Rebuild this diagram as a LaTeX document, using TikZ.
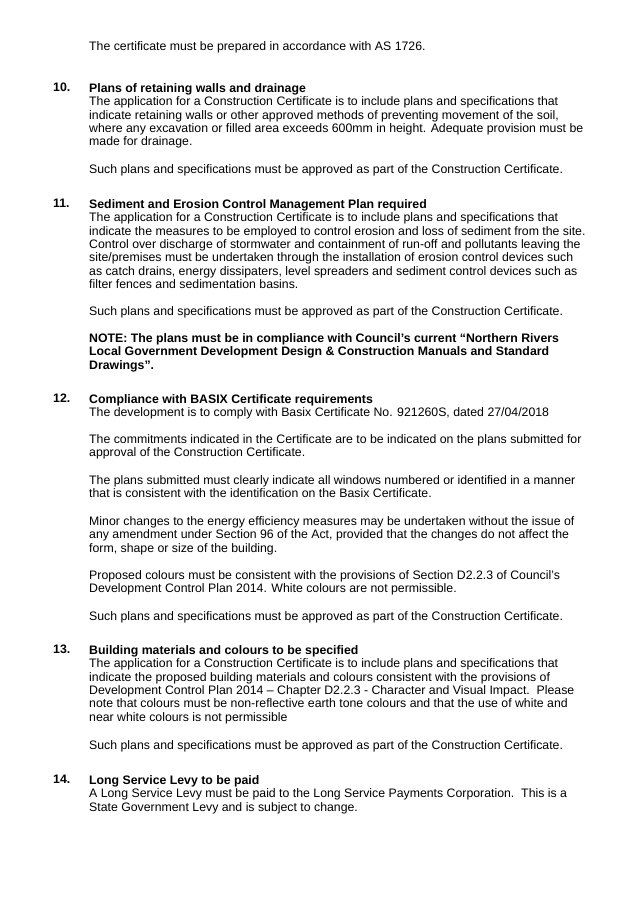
\documentclass[tikz,border=0pt]{standalone}
\usepackage{fontspec}
\setmainfont{Liberation Sans}
\begin{document}
\begin{tikzpicture}[x=1pt,y=-1pt,
 para/.style={anchor=north west,inner sep=0pt,align=left,font=\fontsize{12.3}{13.45}\selectfont},
 num/.style={anchor=north west,inner sep=0pt,font=\fontsize{12.3}{13.45}\selectfont\bfseries}]
\useasboundingbox (0,0) rectangle (638,900);
\fill[white] (0,0) rectangle (638,900);
\node[para] (p0) at (89,41) {The certificate must be prepared in accordance with AS 1726.};
\node[num] (n10) at (53,83) {10.};
\node[para] (p10) at (89,83) {\textbf{Plans of retaining walls and drainage}\\The application for a Construction Certificate is to include plans and specifications that\\indicate retaining walls or other approved methods of preventing movement of the soil,\\where any excavation or filled area exceeds 600mm in height. Adequate provision must be\\made for drainage.};
\node[para] (p10b) at (89,164) {Such plans and specifications must be approved as part of the Construction Certificate.};
\node[num] (n11) at (53,199) {11.};
\node[para] (p11) at (89,199) {\textbf{Sediment and Erosion Control Management Plan required}\\The application for a Construction Certificate is to include plans and specifications that\\indicate the measures to be employed to control erosion and loss of sediment from the site.\\Control over discharge of stormwater and containment of run-off and pollutants leaving the\\site/premises must be undertaken through the installation of erosion control devices such\\as catch drains, energy dissipaters, level spreaders and sediment control devices such as\\filter fences and sedimentation basins.};
\node[para] (p11b) at (89,306) {Such plans and specifications must be approved as part of the Construction Certificate.};
\node[para] (p11c) at (89,333) {\bfseries NOTE: The plans must be in compliance with Council's current ``Northern Rivers\\\bfseries Local Government Development Design \& Construction Manuals and Standard\\\bfseries Drawings''.};
\node[num] (n12) at (53,394) {12.};
\node[para] (p12) at (89,394) {\textbf{Compliance with BASIX Certificate requirements}\\The development is to comply with Basix Certificate No. 921260S, dated 27/04/2018};
\node[para] (p12b) at (89,434) {The commitments indicated in the Certificate are to be indicated on the plans submitted for\\approval of the Construction Certificate.};
\node[para] (p12c) at (89,475) {The plans submitted must clearly indicate all windows numbered or identified in a manner\\that is consistent with the identification on the Basix Certificate.};
\node[para] (p12d) at (89,516) {Minor changes to the energy efficiency measures may be undertaken without the issue of\\any amendment under Section 96 of the Act, provided that the changes do not affect the\\form, shape or size of the building.};
\node[para] (p12e) at (89,570) {Proposed colours must be consistent with the provisions of Section D2.2.3 of Council's\\Development Control Plan 2014. White colours are not permissible.};
\node[para] (p12f) at (89,611) {Such plans and specifications must be approved as part of the Construction Certificate.};
\node[num] (n13) at (53,645) {13.};
\node[para] (p13) at (89,645) {\textbf{Building materials and colours to be specified}\\The application for a Construction Certificate is to include plans and specifications that\\indicate the proposed building materials and colours consistent with the provisions of\\Development Control Plan 2014 -- Chapter D2.2.3 - Character and Visual Impact.\ \ Please\\note that colours must be non-reflective earth tone colours and that the use of white and\\near white colours is not permissible};
\node[para] (p13b) at (89,740) {Such plans and specifications must be approved as part of the Construction Certificate.};
\node[num] (n14) at (53,775) {14.};
\node[para] (p14) at (89,775) {\textbf{Long Service Levy to be paid}\\A Long Service Levy must be paid to the Long Service Payments Corporation.\ \ This is a\\State Government Levy and is subject to change.};
\end{tikzpicture}
\end{document}
